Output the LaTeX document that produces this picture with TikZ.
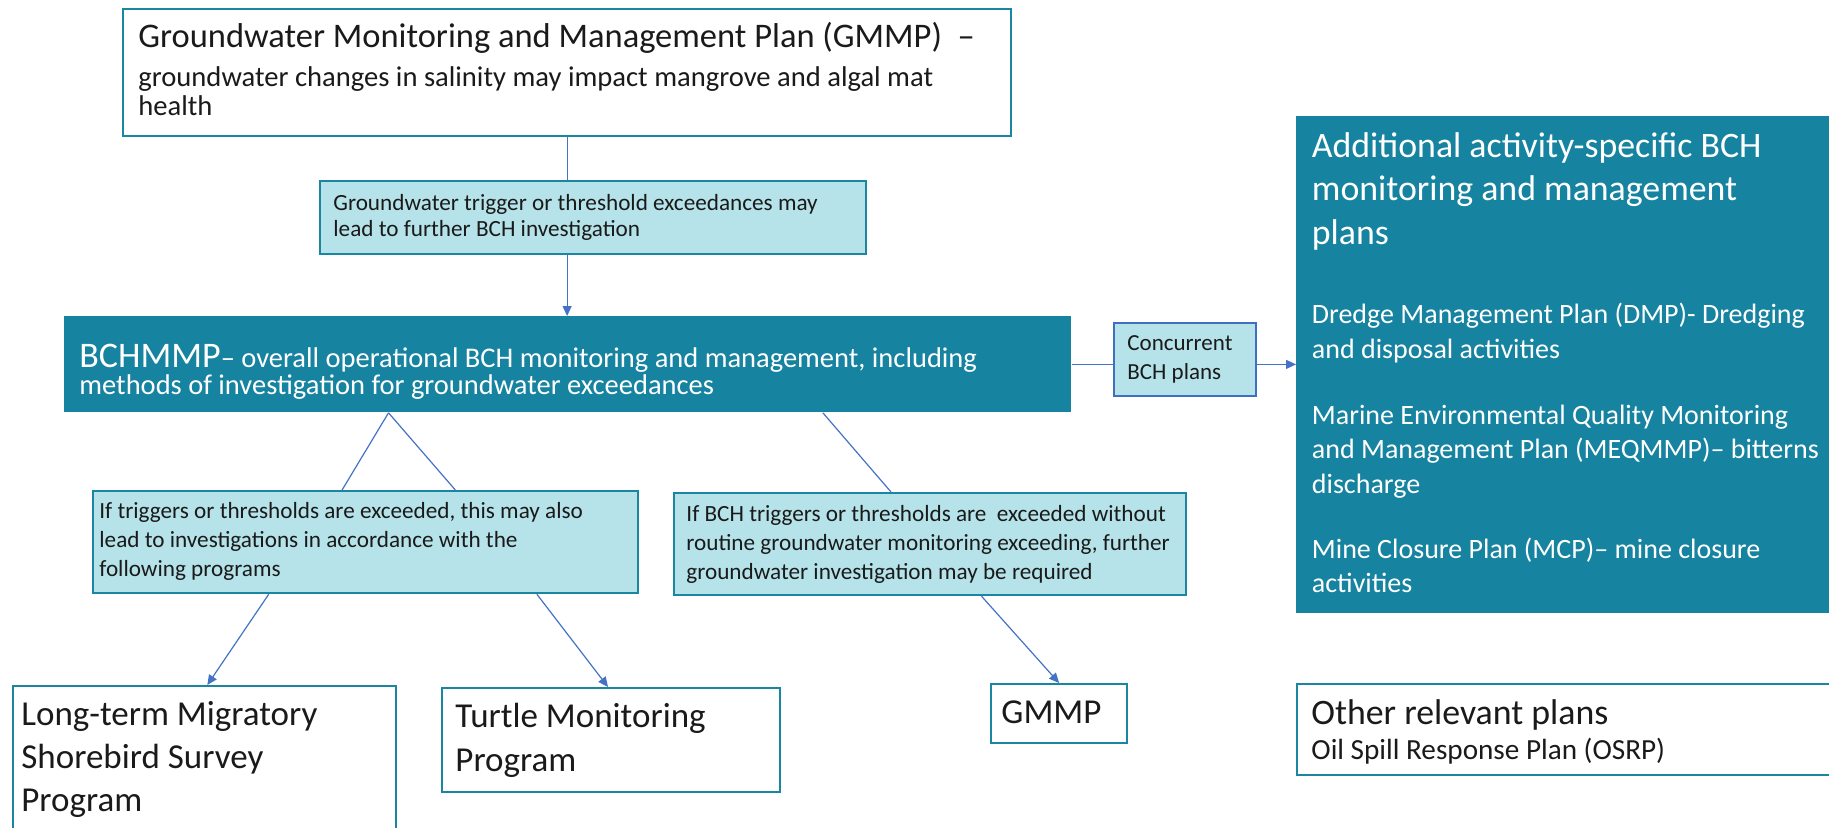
\documentclass[tikz,border=0pt]{standalone}
\usepackage{fontspec}
\setmainfont{Carlito}
\usetikzlibrary{arrows.meta,calc}
\definecolor{dteal}{HTML}{1683A0}
\definecolor{lcyan}{HTML}{B5E3E9}
\definecolor{bteal}{HTML}{1B86A1}
\definecolor{cblue}{HTML}{4472C4}
\definecolor{conblue}{HTML}{3F6FBF}
\definecolor{txtc}{HTML}{1A1A1A}
\newcommand\fs[2]{\fontsize{#1}{#2}\selectfont}
\newcommand\tb[1]{\vtop{\hsize=500pt\relax\raggedright\parindent=0pt\parskip=0pt\relax #1}}
\begin{document}
\begin{tikzpicture}[x=0.5pt,y=-0.5pt,
  box/.style={rectangle, anchor=north west, inner sep=0pt},
  whitebox/.style={box, draw=bteal, line width=1.1pt, fill=white},
  lightbox/.style={box, draw=bteal, line width=1.1pt, fill=lcyan},
  darkbox/.style={box, fill=dteal},
  concbox/.style={box, draw=conblue, line width=1.1pt, fill=lcyan},
  txt/.style={anchor=base west, inner sep=0pt, text=txtc},
  wtxt/.style={anchor=base west, inner sep=0pt, text=white},
  conn/.style={draw=cblue, line width=0.6pt},
  arr/.style={conn, -{Triangle[length=5pt,width=4.5pt]}}]
\useasboundingbox (0,0) rectangle (1829,827);
\clip (0,0) rectangle (1829,827);
% boxes
\node[whitebox, minimum width=444pt, minimum height=63.5pt] (gmmp) at (122,8) {};
\node[lightbox, minimum width=273pt, minimum height=36.5pt] (trig) at (319,180) {};
\node[darkbox, minimum width=503.5pt, minimum height=48pt] (bch) at (64,316) {};
\node[concbox, minimum width=71pt, minimum height=36.5pt] (conc) at (1113,322) {};
\node[darkbox, minimum width=269.5pt, minimum height=248.5pt] (addl) at (1296,116) {};
\node[lightbox, minimum width=272.5pt, minimum height=51pt] (ift) at (92,490) {};
\node[lightbox, minimum width=256pt, minimum height=51pt] (ifbch) at (673,492) {};
\node[whitebox, minimum width=191.5pt, minimum height=80pt] (lt) at (12,685) {};
\node[whitebox, minimum width=169pt, minimum height=52pt] (turtle) at (441,687) {};
\node[whitebox, minimum width=68pt, minimum height=29.5pt] (gsmall) at (990,683) {};
\node[whitebox, minimum width=269.5pt, minimum height=45.5pt] (other) at (1296,683) {};
% texts
\node[txt] (gmmpT) at (138,47) {\tb{{\fs{17.25}{19.5}Groundwater Monitoring and Management Plan (GMMP)\ \ –\par}{\fs{14.3}{19.5}groundwater changes in salinity may impact mangrove and algal mat\par}{\fs{14.3}{14.5}health\par}}};
\node[txt] (trigT) at (333,210) {\tb{\fs{11.6}{13.4}Groundwater trigger or threshold exceedances may\par lead to further BCH investigation\par}};
\node[wtxt] (bchT) at (79,367) {\tb{\fs{14.25}{13.75}{\fontsize{18}{13.75}\selectfont BCHMMP}– overall operational BCH monitoring and management, including\par methods of investigation for groundwater exceedances\par}};
\node[txt] (concT) at (1127,350) {\tb{\fs{11.5}{14.5}Concurrent\par BCH plans\par}};
\node[wtxt] (addlT) at (1311.5,157) {\tb{{\fs{17.9}{21.75}Additional activity-specific BCH\par monitoring and management\par plans\par}\vskip 22pt
{\fs{14}{17.5}Dredge Management Plan (DMP)- Dredging\par and disposal activities\par}\vskip 15.75pt
{\fs{14}{17.25}Marine Environmental Quality Monitoring\par and Management Plan (MEQMMP)– bitterns\par discharge\par}\vskip 15.75pt
{\fs{14}{17}Mine Closure Plan (MCP)– mine closure\par activities\par}}};
\node[txt] (iftT) at (99,518) {\tb{\fs{11.6}{14.5}If triggers or thresholds are exceeded, this may also\par lead to investigations in accordance with the\par following programs\par}};
\node[txt] (ifbchT) at (686,521) {\tb{\fs{11.6}{14.5}If BCH triggers or thresholds are\ \ exceeded without\par routine groundwater monitoring exceeding, further\par groundwater investigation may be required\par}};
\node[txt] (ltT) at (21,725) {\tb{\fs{17.5}{21.5}Long-term Migratory\par Shorebird Survey\par Program\par}};
\node[txt] (turtleT) at (455,727) {\tb{\fs{17.5}{22}Turtle Monitoring\par Program\par}};
\node[txt] (gsT) at (1001,723) {\tb{\fs{17.5}{20}GMMP\par}};
\node[txt] (otherT) at (1311,724) {\tb{{\fs{17.9}{20}Other relevant plans\par}{\fs{14.6}{17.5}Oil Spill Response Plan (OSRP)\par}}};
% connectors
\draw[conn] (gmmp.south) -- (gmmp.south |- trig.north);
\draw[arr] (gmmp.south |- trig.south) -- (gmmp.south |- bch.north);
\coordinate (apex) at ($(bch.south west)!0.322!(bch.south east)$);
\draw[conn] (apex) -- ($(ift.north west)!0.457!(ift.north east)$);
\draw[conn] (apex) -- ($(ift.north west)!0.664!(ift.north east)$);
\draw[arr] ($(ift.south west)!0.323!(ift.south east)$) -- ($(lt.north west)!0.507!(lt.north east)$);
\draw[arr] ($(ift.south west)!0.813!(ift.south east)$) -- ($(turtle.north west)!0.491!(turtle.north east)$);
\draw[conn] ($(bch.south west)!0.753!(bch.south east)$) -- ($(ifbch.north west)!0.424!(ifbch.north east)$);
\draw[arr] ($(ifbch.south west)!0.6!(ifbch.south east)$) -- (gsmall.north);
\draw[conn] (bch.east) -- (bch.east -| conc.west);
\draw[arr] (bch.east -| conc.east) -- (bch.east -| addl.west);
\end{tikzpicture}
\end{document}
